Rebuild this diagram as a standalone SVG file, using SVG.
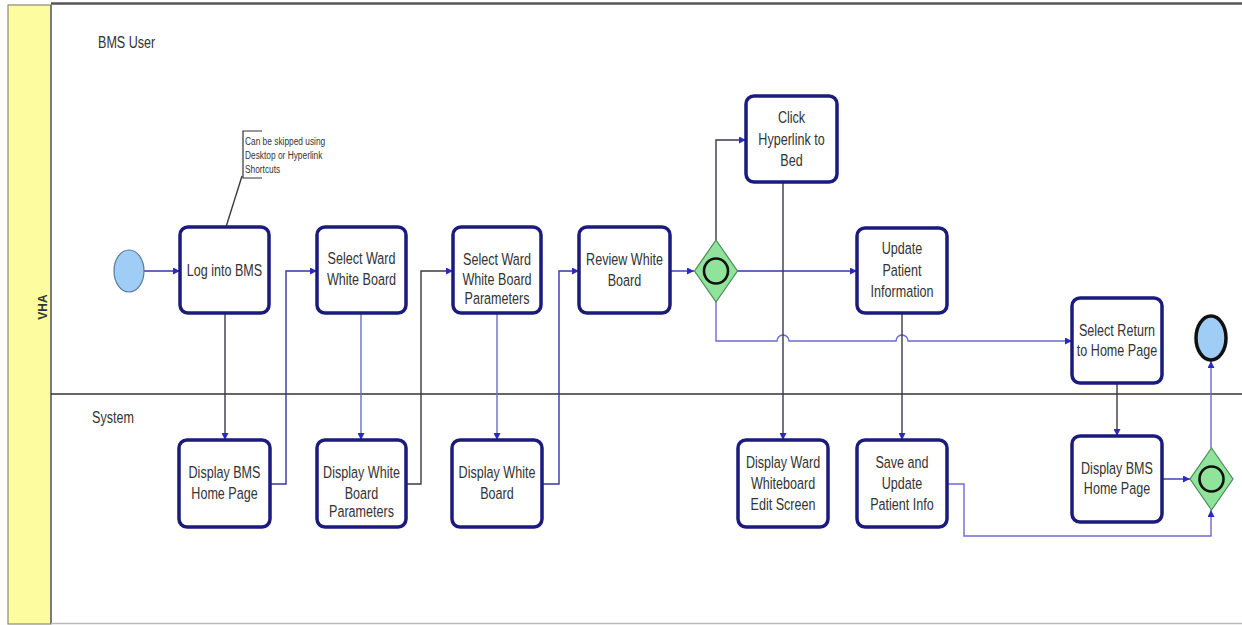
<svg xmlns="http://www.w3.org/2000/svg" width="1242" height="625" viewBox="0 0 1242 625">
<defs>
<style>
.node rect{fill:#ffffff;stroke:#1b1b7e;stroke-width:3.5}
.t{font-family:"Liberation Sans",Arial,sans-serif;font-size:17px;fill:#333333;text-anchor:middle}
.lbl{font-family:"Liberation Sans",Arial,sans-serif;font-size:17px;fill:#333333}
.note{font-family:"Liberation Sans",Arial,sans-serif;font-size:11px;fill:#333333}
.c{fill:none;stroke-width:1.4}
.cb{stroke:#3535a5}
.cd{stroke:#3a3a4a}
.cl{stroke:#6b6bd0}
.gw{fill:#8fe39a;stroke:#4a8a55;stroke-width:1.2}
.gwi{fill:#8fe39a;stroke:#111111;stroke-width:2.6}
</style>
<marker id="ah" viewBox="0 0 8 8" refX="8" refY="4" markerWidth="7" markerHeight="7" markerUnits="userSpaceOnUse" orient="auto">
<path d="M0,0 L8,4 L0,8 z" fill="#2a2ac0"/>
</marker>
</defs>

<g id="frame">
<rect x="0" y="0" width="1242" height="625" fill="#ffffff"/>
<rect x="8" y="5" width="43" height="619" fill="#fdfc9f" stroke="#8a8a7a" stroke-width="1.2"/>
<line x1="51" y1="3.5" x2="1242" y2="3.5" stroke="#555555" stroke-width="2.5"/>
<line x1="51" y1="5" x2="51" y2="624" stroke="#666666" stroke-width="1.5"/>
<line x1="51" y1="394" x2="1242" y2="394" stroke="#333333" stroke-width="1.5"/>
<line x1="51" y1="623.5" x2="1242" y2="623.5" stroke="#bbbbbb" stroke-width="1.5"/>
<text transform="translate(47,307) rotate(-90)" font-family="Liberation Sans, Arial, sans-serif" font-size="12" font-weight="bold" fill="#333333" text-anchor="middle">VHA</text>
<text class="lbl" transform="translate(98,48) scale(0.74,1)">BMS User</text>
<text class="lbl" transform="translate(92,423) scale(0.74,1)">System</text>
</g>

<g id="connectors">
<path class="c cb" d="M144,271 H180" marker-end="url(#ah)"/>
<path class="c cd" d="M225,313 V440" marker-end="url(#ah)"/>
<path class="c cb" d="M270,484 H286 V271 H317" marker-end="url(#ah)"/>
<path class="c cl" d="M361,313 V440" marker-end="url(#ah)"/>
<path class="c cd" d="M406,484 H421 V271 H453" marker-end="url(#ah)"/>
<path class="c cl" d="M497,313 V440" marker-end="url(#ah)"/>
<path class="c cb" d="M542,484 H559 V271 H579" marker-end="url(#ah)"/>
<path class="c cb" d="M670,271 H694" marker-end="url(#ah)"/>
<path class="c cd" d="M716,240 V140 H746" marker-end="url(#ah)"/>
<path class="c cb" d="M737,271 H857" marker-end="url(#ah)"/>
<path class="c cl" d="M716,302 V341 H777 A6,6 0 0 1 789,341 H896 A6,6 0 0 1 908,341 H1072" marker-end="url(#ah)"/>
<path class="c cd" d="M783,182 V440" marker-end="url(#ah)"/>
<path class="c cd" d="M902,313 V440" marker-end="url(#ah)"/>
<path class="c cd" d="M1117,383 V436" marker-end="url(#ah)"/>
<path class="c cb" d="M1162,479 H1190" marker-end="url(#ah)"/>
<path class="c cl" d="M947,484 H964 V536 H1211 V510" marker-end="url(#ah)"/>
<path class="c cl" d="M1211,448 V361" marker-end="url(#ah)"/>
<path class="c cd" d="M242,176 L226,227"/>
</g>

<g id="note">
<path d="M262,131 H243 V178 H262" fill="none" stroke="#333333" stroke-width="1.2"/>
<text class="note" transform="translate(245,145) scale(0.76,1)">Can be skipped using</text>
<text class="note" transform="translate(245,159) scale(0.76,1)">Desktop or Hyperlink</text>
<text class="note" transform="translate(245,173) scale(0.76,1)">Shortcuts</text>
</g>

<g id="start">
<ellipse cx="129" cy="271" rx="15" ry="21" fill="#9fcdf5" stroke="#5a7a9a" stroke-width="1.2"/>
</g>

<g id="log-into-bms" class="node">
<rect x="180" y="227" width="89" height="86" rx="8"/>
<text class="t" transform="translate(224.5,276) scale(0.74,1)">Log into BMS</text>
</g>

<g id="select-ward" class="node">
<rect x="317" y="227" width="89" height="86" rx="8"/>
<text class="t" transform="translate(361.5,264) scale(0.74,1)">Select Ward</text>
<text class="t" transform="translate(361.5,285) scale(0.74,1)">White Board</text>
</g>

<g id="select-params" class="node">
<rect x="453" y="227" width="88" height="86" rx="8"/>
<text class="t" transform="translate(497,265) scale(0.74,1)">Select Ward</text>
<text class="t" transform="translate(497,285) scale(0.74,1)">White Board</text>
<text class="t" transform="translate(497,304) scale(0.74,1)">Parameters</text>
</g>

<g id="review" class="node">
<rect x="579" y="227" width="91" height="86" rx="8"/>
<text class="t" transform="translate(624.5,265) scale(0.74,1)">Review White</text>
<text class="t" transform="translate(624.5,286) scale(0.74,1)">Board</text>
</g>

<g id="gateway1">
<polygon class="gw" points="716,240 737.5,271 716,302 694.5,271"/>
<ellipse class="gwi" cx="716" cy="271" rx="12" ry="12.5"/>
</g>

<g id="click-hyperlink" class="node">
<rect x="746" y="96" width="91" height="86" rx="8"/>
<text class="t" transform="translate(791.5,123) scale(0.74,1)">Click</text>
<text class="t" transform="translate(791.5,145) scale(0.74,1)">Hyperlink to</text>
<text class="t" transform="translate(791.5,166) scale(0.74,1)">Bed</text>
</g>

<g id="update-patient" class="node">
<rect x="857" y="228" width="90" height="85" rx="8"/>
<text class="t" transform="translate(902,254) scale(0.74,1)">Update</text>
<text class="t" transform="translate(902,276) scale(0.74,1)">Patient</text>
<text class="t" transform="translate(902,297) scale(0.74,1)">Information</text>
</g>

<g id="select-return" class="node">
<rect x="1072" y="298" width="90" height="85" rx="8"/>
<text class="t" transform="translate(1117,336) scale(0.74,1)">Select Return</text>
<text class="t" transform="translate(1117,356) scale(0.74,1)">to Home Page</text>
</g>

<g id="end">
<ellipse cx="1211" cy="338" rx="15" ry="22" fill="#9fcdf5" stroke="#111111" stroke-width="3.5"/>
</g>

<g id="display-bms-home-1" class="node">
<rect x="179" y="440" width="91" height="87" rx="8"/>
<text class="t" transform="translate(224.5,478) scale(0.74,1)">Display BMS</text>
<text class="t" transform="translate(224.5,499) scale(0.74,1)">Home Page</text>
</g>

<g id="display-wb-params" class="node">
<rect x="317" y="440" width="89" height="87" rx="8"/>
<text class="t" transform="translate(361.5,478) scale(0.74,1)">Display White</text>
<text class="t" transform="translate(361.5,499) scale(0.74,1)">Board</text>
<text class="t" transform="translate(361.5,517) scale(0.74,1)">Parameters</text>
</g>

<g id="display-wb" class="node">
<rect x="452" y="440" width="90" height="87" rx="8"/>
<text class="t" transform="translate(497,478) scale(0.74,1)">Display White</text>
<text class="t" transform="translate(497,499) scale(0.74,1)">Board</text>
</g>

<g id="display-edit-screen" class="node">
<rect x="738" y="440" width="90" height="87" rx="8"/>
<text class="t" transform="translate(783,468) scale(0.74,1)">Display Ward</text>
<text class="t" transform="translate(783,489) scale(0.74,1)">Whiteboard</text>
<text class="t" transform="translate(783,510) scale(0.74,1)">Edit Screen</text>
</g>

<g id="save-update" class="node">
<rect x="857" y="440" width="90" height="87" rx="8"/>
<text class="t" transform="translate(902,468) scale(0.74,1)">Save and</text>
<text class="t" transform="translate(902,489) scale(0.74,1)">Update</text>
<text class="t" transform="translate(902,510) scale(0.74,1)">Patient Info</text>
</g>

<g id="display-bms-home-2" class="node">
<rect x="1072" y="436" width="90" height="86" rx="8"/>
<text class="t" transform="translate(1117,474) scale(0.74,1)">Display BMS</text>
<text class="t" transform="translate(1117,494) scale(0.74,1)">Home Page</text>
</g>

<g id="gateway2">
<polygon class="gw" points="1211.5,448 1233,479 1211.5,510 1190,479"/>
<ellipse class="gwi" cx="1211.5" cy="479" rx="12" ry="12.5"/>
</g>
</svg>
